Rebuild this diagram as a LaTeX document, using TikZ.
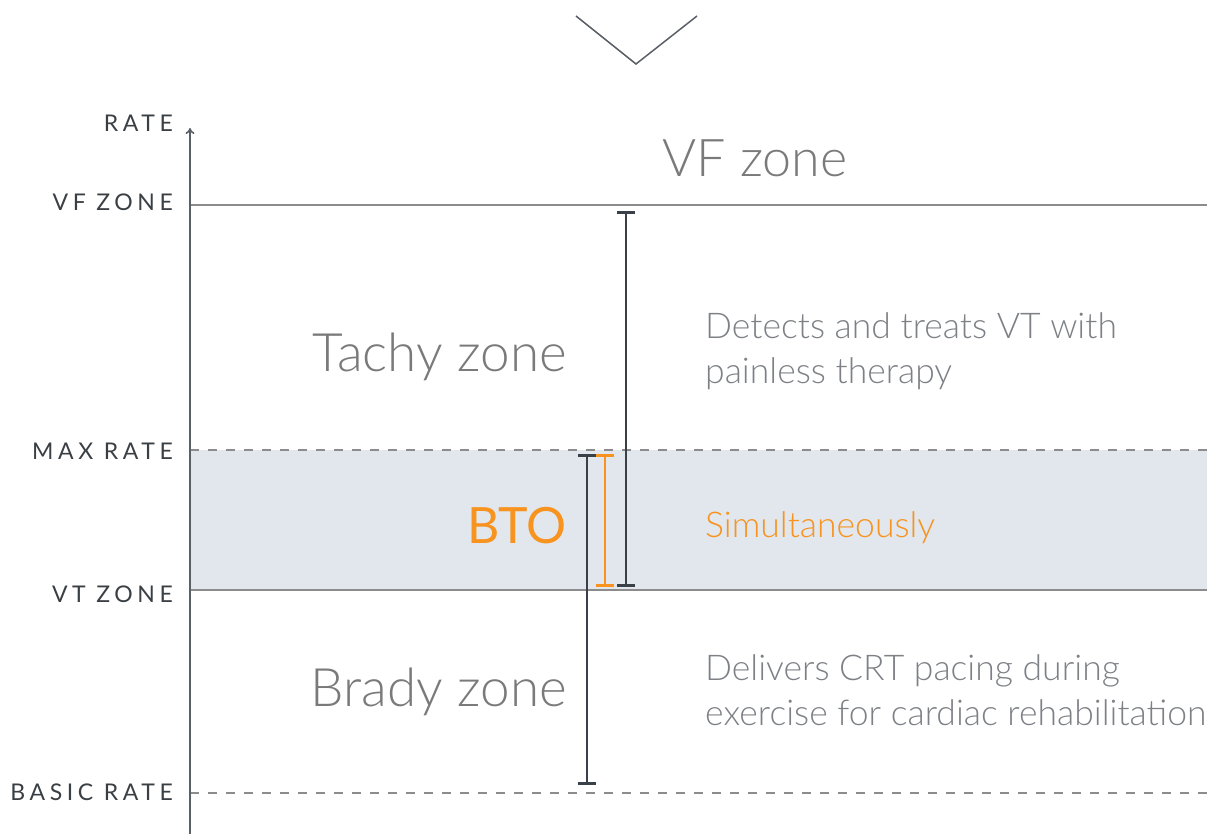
\documentclass[tikz,border=0pt]{standalone}
\usepackage{fontspec}
\setmainfont{Lato}
\newfontfamily\lightfont{Lato Light}
\newfontfamily\labelfont{Lato}[LetterSpace=20]
\usetikzlibrary{arrows.meta}
\definecolor{biggray}{HTML}{7A7A7A}
\definecolor{txtgray}{HTML}{7D8085}
\definecolor{lblgray}{HTML}{3A3F44}
\definecolor{orng}{HTML}{F7931E}
\definecolor{band}{HTML}{E1E7EC}
\definecolor{linegray}{HTML}{8C8C8C}
\definecolor{axisgray}{HTML}{5A6066}
\definecolor{brk}{HTML}{3A4048}
\tikzset{
  lbl/.style={anchor=base east, text=lblgray, font=\labelfont\fontsize{23}{23}\selectfont, inner sep=0pt},
  bigtxt/.style={anchor=base east, text=biggray, font=\lightfont\fontsize{53}{53}\selectfont, inner sep=0pt},
  desc/.style={anchor=base west, text=txtgray, font=\lightfont\fontsize{35.5}{45}\selectfont, inner sep=0pt, align=left},
  bracket/.style={line width=2.6pt, {Bar[width=18pt,line width=2.6pt]}-{Bar[width=18pt,line width=2.6pt]}},
  zline/.style={line width=1.3pt, linegray},
  dline/.style={line width=1.3pt, linegray, dash pattern=on 9pt off 9pt},
}
\begin{document}
\begin{tikzpicture}[x=1pt,y=-1pt]
\useasboundingbox (0,0) rectangle (1207,834);
\fill[band] (190,450) rectangle (1207,590);
% chevron
\coordinate (c1) at (576,16); \coordinate (c2) at (636,64); \coordinate (c3) at (697,16);
\draw[line width=1.5pt, axisgray] (c1) -- (c2) -- (c3);
% zone lines
\coordinate (vfL) at (190,205); \coordinate (vfR) at (1207,205);
\coordinate (mxL) at (190,450); \coordinate (mxR) at (1207,450);
\coordinate (vtL) at (190,590); \coordinate (vtR) at (1207,590);
\coordinate (bsL) at (190,793); \coordinate (bsR) at (1207,793);
\draw[zline] (vfL) -- (vfR);
\draw[dline] (mxL) -- (mxR);
\draw[zline] (vtL) -- (vtR);
\draw[dline] (bsL) -- (bsR);
% axis
\coordinate (ax0) at (190,834); \coordinate (ax1) at (190,128);
\draw[line width=1.6pt, axisgray, -{To[length=6pt,width=9pt]}] (ax0) -- (ax1);
% labels
\node[lbl] (lrate) at (173,132) {RATE};
\node[lbl] (lvf) at (173,211) {VF ZONE};
\node[lbl] (lmax) at (173,459) {MAX RATE};
\node[lbl] (lvt) at (173,602) {VT ZONE};
\node[lbl] (lbasic) at (173,800) {BASIC RATE};
% brackets
\coordinate (t1) at (626,211); \coordinate (t2) at (626,587);
\coordinate (b1) at (587,454); \coordinate (b2) at (587,785);
\coordinate (o1) at (605,454); \coordinate (o2) at (605,587);
\draw[bracket, brk] (t1) -- (t2);
\draw[bracket, brk] (b1) -- (b2);
\draw[bracket, orng, line width=2pt] (o1) -- (o2);
% big texts
\node[anchor=base, text=biggray, font=\lightfont\fontsize{52}{52}\selectfont, inner sep=0pt] (vfz) at (755,177) {VF zone};
\node[bigtxt] (tachy) at (567,371) {Tachy zone};
\node[bigtxt] (brady) at (567,706) {Brady zone};
\node[anchor=base east, text=orng, font=\fontsize{50}{50}\selectfont, inner sep=0pt] (bto) at (567,543) {BTO};
% descriptions
\node[desc] (d1) at (705,383) {Detects and treats VT with\\painless therapy};
\node[desc, text=orng] (d2) at (705,537) {Simultaneously};
\node[desc] (d3) at (705,725) {Delivers CRT pacing during\\exercise for cardiac rehabilitation};
\end{tikzpicture}
\end{document}
